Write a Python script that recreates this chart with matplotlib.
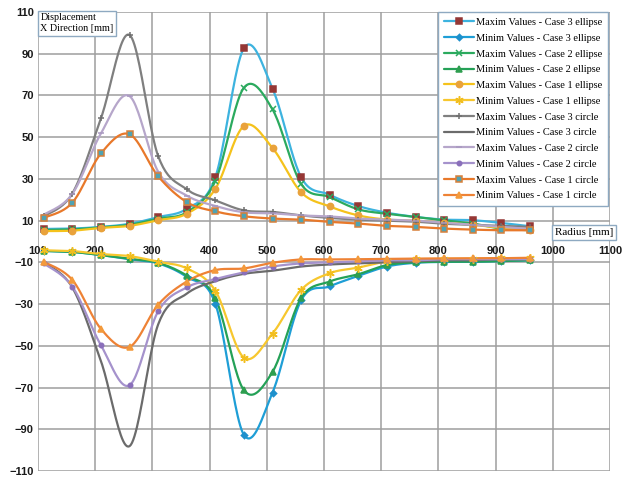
import numpy as np
import matplotlib
matplotlib.use("Agg")
import matplotlib.pyplot as plt

# radius positions of the computed points
radius = [110, 160, 210, 260, 310, 360, 410, 460, 510, 560,
          610, 660, 710, 760, 810, 860, 910, 960]

max_c3_ell = [6, 6.2, 7, 8.5, 11.7, 15.7, 30.8, 92.7, 73.3, 30.8, 22.4, 17, 13.8, 11.8, 10.5, 10.2, 8.9, 7.3]
min_c3_ell = [-4.5, -5, -6.5, -8.5, -10.5, -17, -29.8, -92.7, -72.4, -28.2, -21.5, -16.5, -12, -10.2, -9.8, -9.7, -9.4, -9]
max_c2_ell = [5.5, 5.8, 6.8, 8, 11, 14, 29, 73.7, 63.3, 27.6, 21.3, 15.4, 13.3, 11.8, 10.2, 8.6, 6.2, 5.4]
min_c2_ell = [-4.5, -5, -6.5, -8.3, -10.2, -16.3, -27.1, -71.3, -62.5, -27.1, -19.2, -15.7, -11.3, -10, -9.7, -9.7, -9.4, -9]
max_c1_ell = [5, 5.2, 6.5, 7.5, 10.2, 13.3, 25.2, 55.4, 44.8, 23.6, 16.8, 12.5, 10.5, 10, 9, 8, 6.5, 5.5]
min_c1_ell = [-4.2, -4.6, -6, -7, -9.7, -12.9, -23.6, -55.7, -44.1, -23.2, -15.2, -12.5, -9.5, -8.5, -8.3, -8.2, -8, -8]
max_c3_cir = [12, 23, 59, 99, 41, 25, 19.7, 14.9, 14.2, 12.5, 11.3, 10.5, 10, 9.5, 8.5, 8, 7.5, 7]
min_c3_cir = [-10, -22, -57.3, -98.1, -39.8, -25, -19, -15.5, -14, -12, -11, -10.5, -10, -9.5, -9, -9, -8.5, -8.5]
max_c2_cir = [12.8, 22.8, 51.8, 69.7, 33.5, 22, 17, 14, 13.5, 12.5, 12, 11, 10.5, 10, 9, 8, 7, 6]
min_c2_cir = [-10.5, -21.6, -49.7, -68.9, -33.5, -22, -18, -14.8, -12, -10.5, -10, -9.5, -9, -9, -8.5, -8.5, -8.5, -8.5]
max_c1_cir = [11.3, 18.6, 42.2, 51.4, 31.3, 18.9, 14.4, 12.1, 11, 10.5, 9.4, 8.6, 7.5, 7, 6.2, 5.7, 5.4, 5.4]
min_c1_cir = [-9.7, -18.4, -41.9, -50.5, -30.3, -19.2, -13.7, -12.9, -10.2, -8.6, -8.6, -8.5, -8.3, -8.2, -8.1, -8, -8, -7.8]

labels = ["Maxim Values - Case 3 ellipse", "Minim Values - Case 3 ellipse",
          "Maxim Values - Case 2 ellipse", "Minim Values - Case 2 ellipse",
          "Maxim Values - Case 1 ellipse", "Minim Values - Case 1 ellipse",
          "Maxim Values - Case 3 circle", "Minim Values - Case 3 circle",
          "Maxim Values - Case 2 circle", "Minim Values - Case 2 circle",
          "Maxim Values - Case 1 circle", "Minim Values - Case 1 circle"]

series = [max_c3_ell, min_c3_ell, max_c2_ell, min_c2_ell, max_c1_ell, min_c1_ell,
          max_c3_cir, min_c3_cir, max_c2_cir, min_c2_cir, max_c1_cir, min_c1_cir]

# line colour, marker, marker face, marker edge, marker size
styles = [
    ("#3DB3DF", "s", "#953735", "#953735", 4.5),
    ("#1E9ED6", "D", "#1E90CC", "#1E90CC", 3.2),
    ("#2BAA5E", "x", "#2BAA5E", "#2BAA5E", 4.5),
    ("#24A157", "^", "#2E9E4F", "#2E9E4F", 4.5),
    ("#F5C21B", "o", "#E9A23B", "#E9A23B", 4.5),
    ("#F7C72E", (6, 2, 0), "#F2BE1E", "#F2BE1E", 6),
    ("#7F7F7F", "+", "#6F6F6F", "#6F6F6F", 5),
    ("#6B6B6B", None, None, None, 0),
    ("#B6A6CA", "_", "#A898C0", "#A898C0", 5),
    ("#A592CC", "o", "#8A6FBA", "#8A6FBA", 3.2),
    ("#E8782A", "s", "#4FA3B3", "#D7803A", 4.5),
    ("#EE8235", "^", "#F39A3C", "#F39A3C", 4.5),
]


def smooth(x, y, n=24):
    # bezier smoothing like the spreadsheet's smoothed line
    p = np.column_stack([x, y]).astype(float)
    xs, ys = [], []
    for i in range(len(p) - 1):
        p0 = p[i - 1] if i > 0 else p[i]
        p1, p2 = p[i], p[i + 1]
        p3 = p[i + 2] if i + 2 < len(p) else p[i + 1]
        c1 = p1 + (p2 - p0) / 6
        c2 = p2 - (p3 - p1) / 6
        t = np.linspace(0, 1, n)[:, None]
        b = ((1 - t) ** 3) * p1 + 3 * ((1 - t) ** 2) * t * c1 + 3 * (1 - t) * t ** 2 * c2 + t ** 3 * p2
        xs.extend(b[:, 0])
        ys.extend(b[:, 1])
    return xs, ys


fig = plt.figure(figsize=(6.23, 4.78), dpi=100)
ax = fig.add_axes([38 / 623, 1 - 471 / 478, 572 / 623, 459 / 478])

handles = []
for vals, (lc, mk, mf, me, ms) in zip(series, styles):
    sx, sy = smooth(radius, vals)
    ln, = ax.plot(sx, sy, color=lc, lw=1.6, zorder=2, solid_capstyle="round")
    if mk is None:
        handles.append(ln)
        continue
    mkl, = ax.plot(radius, vals, ls="none", marker=mk, ms=ms, mfc=mf, mec=me,
                   mew=1.1, zorder=3)
    handles.append((ln, mkl))

ax.set_xlim(100, 1100)
ax.set_ylim(-110, 110)
ax.set_xticks(np.arange(100, 1101, 100))
ax.set_yticks(np.arange(-110, 111, 20))
ax.grid(True, color="#9E9E9E", lw=1.1)
ax.set_axisbelow(True)
for s in ["top", "right", "left"]:
    ax.spines[s].set_visible(False)
ax.spines["bottom"].set_position(("data", 0))
ax.spines["bottom"].set_color("none")
ax.tick_params(length=0, labelsize=8, pad=3)
for lab in ax.get_xticklabels() + ax.get_yticklabels():
    lab.set_fontweight("bold")
    lab.set_family("Liberation Sans")
    lab.set_color("#1A1A1A")
for lab in ax.get_xticklabels():
    lab.set_zorder(5)

leg = ax.legend(handles, labels, loc="upper right", bbox_to_anchor=(0.997, 1.0),
                borderaxespad=0, prop={"family": "Liberation Serif", "size": 7.5},
                handlelength=2.9, handletextpad=0.2, labelspacing=0.62,
                fancybox=False, framealpha=1, edgecolor="#8EA9C1",
                borderpad=0.55)
leg.get_frame().set_linewidth(1)
leg.set_zorder(6)

ax.text(0.004, 0.997, "Displacement\nX Direction [mm]", transform=ax.transAxes,
        ha="left", va="top", family="Liberation Serif", fontsize=7.3,
        linespacing=1.3, zorder=6,
        bbox=dict(boxstyle="square,pad=0.25", fc="white", ec="#8EA9C1", lw=1))

ax.text(1054, 4.3, "Radius [mm]", ha="center", va="center",
        family="Liberation Serif", fontsize=8, zorder=6, clip_on=False,
        bbox=dict(boxstyle="square,pad=0.25", fc="white", ec="#8EA9C1", lw=1))

fig.savefig("out.png", dpi=100)
